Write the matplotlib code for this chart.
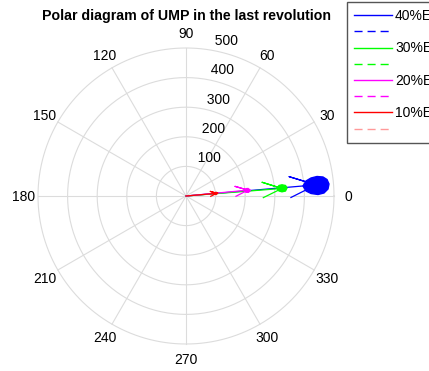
import numpy as np
import matplotlib
matplotlib.use("Agg")
import matplotlib.pyplot as plt

plt.rcParams['font.family'] = ['Liberation Sans', 'DejaVu Sans']

# eccentricity cases, drawn largest first so the small arrows end up on top
labels = ["40%Ee", "30%Ee", "20%Ee", "10%Ee"]
colors = ["#0000ff", "#00ff00", "#ff00ff", "#ff0000"]
dash_colors = ["#0000ff", "#00ff00", "#ff00ff", "#ff9999"]

# mean UMP vector (magnitude, angle in degrees)
ump_mag = [441, 325, 210, 104]
ump_ang = [4.9, 4.5, 5.4, 5.0]

# UMP locus over the last revolution (r, theta in degrees)
locus_r = [
    [396.7, 408.5, 426.6, 447.4, 467.2, 479.6, 484.8, 480.3, 466.3, 446.0, 422.4, 405.7],
    [308.4, 316.2, 326.5, 338.0, 342.3, 336.5, 324.6, 314.6],
    [198.4, 204.2, 211.0, 218.7, 211.5, 203.1],
    [96.7, 102.1, 108.6, 101.5],
]
locus_t = [
    [4.89, 7.13, 8.19, 8.47, 7.90, 6.67, 4.80, 2.82, 1.25, 0.65, 1.15, 2.39],
    [4.71, 6.44, 6.65, 6.02, 4.53, 2.88, 2.51, 3.08],
    [5.08, 6.94, 6.90, 5.05, 3.39, 3.53],
    [5.0, 7.0, 5.4, 2.9],
]

rmax = 500
rings = [100, 200, 300, 400, 500]
spokes = [0, 30, 60, 90, 120, 150]

W, H = 429, 371
cx, cy, R = 186, 196, 148          # centre and outer radius in pixels
upp = rmax / R                     # data units per pixel
xl, yl = 620, 580

fig = plt.figure(figsize=(W / 100, H / 100), dpi=100)
ax = fig.add_axes([(cx - xl / upp) / W, (H - cy - yl / upp) / H,
                   2 * xl / upp / W, 2 * yl / upp / H])
ax.set_xlim(-xl, xl)
ax.set_ylim(-yl, yl)
ax.set_aspect('equal')
ax.axis('off')

grid = "#dcdcdc"
th = np.linspace(0, 2 * np.pi, 361)
for r in rings:
    ax.plot(r * np.cos(th), r * np.sin(th), color=grid, lw=0.8, zorder=1)
    a = np.deg2rad(82)
    ax.text((r + 5) * np.cos(a), (r + 5) * np.sin(a), "  %d" % r,
            ha='left', va='bottom', fontsize=10, zorder=2)
for s in spokes:
    a = np.deg2rad(s)
    ax.plot([-rmax * np.cos(a), rmax * np.cos(a)],
            [-rmax * np.sin(a), rmax * np.sin(a)], color=grid, lw=0.8, zorder=1)
for d in range(0, 360, 30):
    a = np.deg2rad(d)
    ax.text(1.1 * rmax * np.cos(a), 1.1 * rmax * np.sin(a) - 4, str(d),
            ha='center', va='center', fontsize=10)

handles = []
for i in range(len(labels)):
    a = np.deg2rad(ump_ang[i])
    L = ump_mag[i]
    # compass style arrow: shaft plus two barbs
    xx = np.array([0, 1, 0.8, 1, 0.8]) * L
    yy = np.array([0, 0, 0.08, 0, -0.08]) * L
    ax.plot(xx * np.cos(a) - yy * np.sin(a), xx * np.sin(a) + yy * np.cos(a),
            color=colors[i], lw=0.9, zorder=3 + i)
    t = np.deg2rad(locus_t[i])
    r = np.array(locus_r[i])
    ax.fill(r * np.cos(t), r * np.sin(t), facecolor=colors[i],
            edgecolor=colors[i], lw=1.0, zorder=3 + i)
    h1, = ax.plot([], [], color=colors[i], lw=1.0)
    h2, = ax.plot([], [], color=dash_colors[i], lw=1.0, ls=(0, (5.8, 3.6)))
    handles += [(h1, labels[i]), (h2, " ")]

fig.text(cx / W, 1 - 16 / H, "Polar diagram of UMP in the last revolution",
         ha='center', va='center', fontsize=10.2, fontweight='bold')

leg = fig.legend([h for h, _ in handles], [l for _, l in handles],
                 loc='upper left', bbox_to_anchor=(347 / W, 1 - 2 / H),
                 fontsize=10, frameon=True, fancybox=False, framealpha=1,
                 edgecolor='#555555', handlelength=2.75, handletextpad=0.2,
                 labelspacing=0.16, borderpad=0.5, borderaxespad=0)
leg.get_frame().set_linewidth(1.0)

fig.savefig("out.png", dpi=100)
